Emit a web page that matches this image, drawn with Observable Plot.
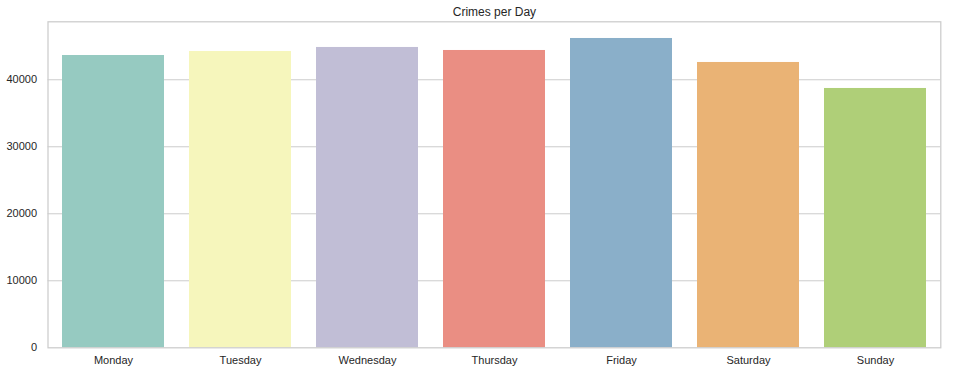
<!DOCTYPE html>
<html>
<head>
<meta charset="utf-8">
<script src="https://cdn.jsdelivr.net/npm/d3@7"></script>
<script src="https://cdn.jsdelivr.net/npm/@observablehq/plot@0.6"></script>
<style>
  html, body { margin: 0; padding: 0; background: #fff; }
  #chart svg { display: block; }
</style>
</head>
<body>
<div id="chart"></div>
<script>
const days = ["Monday", "Tuesday", "Wednesday", "Thursday", "Friday", "Saturday", "Sunday"];
const crimes = [43620, 44220, 44820, 44370, 46160, 42580, 38700];
const palette = ["#8dd3c7", "#ffffb3", "#bebada", "#fb8072", "#80b1d3", "#fdb462", "#b3de69"];
const yTicks = [0, 10000, 20000, 30000, 40000];
const gridTicks = [10000, 20000, 30000, 40000];
const title = "Crimes per Day";

// seaborn-style desaturation (saturation 0.75)
const colors = palette.map(c => { const h = d3.hsl(c); h.s *= 0.75; return h.formatHex(); });

const data = days.map((d, i) => ({ day: d, count: crimes[i] }));

const chart = Plot.plot({
  width: 953,
  height: 374,
  marginLeft: 47.5,
  marginRight: 12.7,
  marginTop: 21.3,
  marginBottom: 26.7,
  style: { fontFamily: "'Liberation Sans', Arial, sans-serif", fontSize: "11px", color: "#262626", background: "#fff" },
  x: { domain: days, paddingInner: 0.2, paddingOuter: 0.1, label: null },
  y: { domain: [0, 48650], label: null },
  color: { domain: days, range: colors },
  marks: [
    Plot.gridY(gridTicks, { stroke: "#cccccc", strokeOpacity: 1, strokeWidth: 1 }),
    Plot.barY(data, { x: "day", y: "count", fill: "day" }),
    Plot.frame({ stroke: "#cccccc", strokeWidth: 1.25 }),
    Plot.axisY(yTicks, { tickSize: 0, tickPadding: 11, tickFormat: d => String(d), fill: "#262626", fontSize: 11 }),
    Plot.axisX({ tickSize: 0, tickPadding: 8.5, fill: "#262626", fontSize: 11 }),
    Plot.text([title], { frameAnchor: "top", lineAnchor: "middle", dy: -10, fontSize: 12, fill: "#262626", text: d => d })
  ]
});
document.getElementById("chart").appendChild(chart);
</script>
</body>
</html>
